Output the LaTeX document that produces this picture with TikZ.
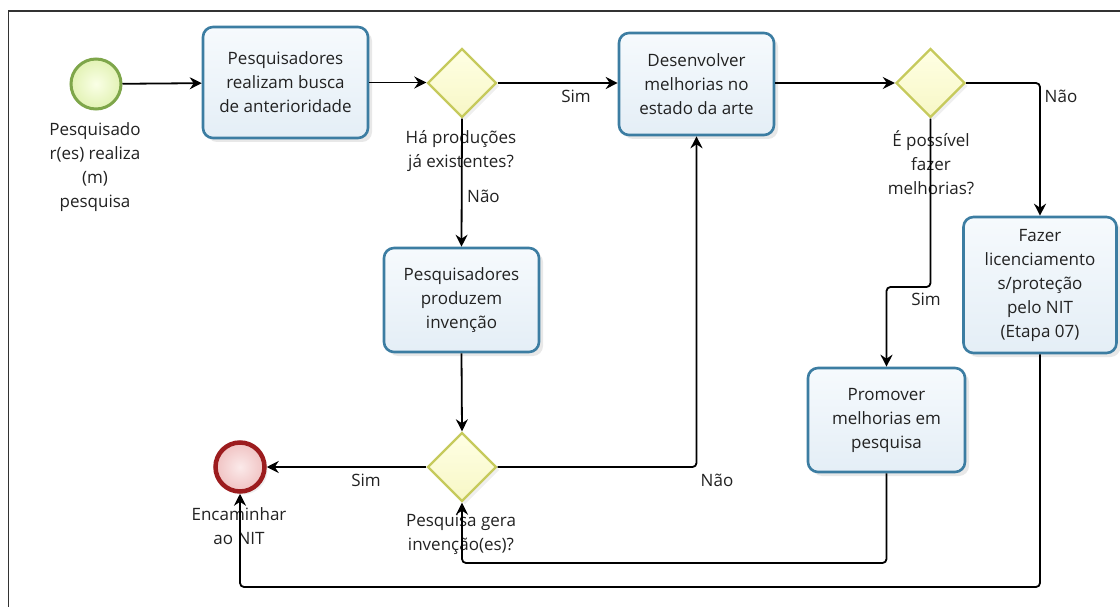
\documentclass[tikz,border=0pt]{standalone}
\usepackage{fontspec}
\setmainfont{Open Sans}
\usetikzlibrary{shapes.geometric,arrows.meta,shadows}
\definecolor{taskborder}{HTML}{3C7DA2}
\definecolor{tasktop}{HTML}{F6FAFD}
\definecolor{taskbot}{HTML}{E4EEF6}
\definecolor{gwborder}{HTML}{C6CA5C}
\definecolor{gwfill}{HTML}{FFFFE4}
\definecolor{gwfill2}{HTML}{F7F7C6}
\definecolor{stborder}{HTML}{7EA64A}
\definecolor{stin}{HTML}{FAFFE6}
\definecolor{stout}{HTML}{E2F2B4}
\definecolor{endborder}{HTML}{9C1C1E}
\definecolor{endin}{HTML}{FBEAEA}
\definecolor{endout}{HTML}{F0C2C2}
\definecolor{txt}{HTML}{222222}
\begin{document}
\begin{tikzpicture}[x=1pt,y=-1pt,
  font=\fontsize{17}{24}\selectfont,
  task/.style={draw=taskborder, line width=2.6pt, rounded corners=10pt,
    top color=tasktop, bottom color=taskbot, align=center, inner sep=0pt,
    text=txt, drop shadow={opacity=0.18, shadow xshift=4pt, shadow yshift=-4pt}},
  gw/.style={diamond, aspect=1, draw=gwborder, line width=2.4pt,
    top color=gwfill, bottom color=gwfill2, minimum size=69pt, inner sep=0pt,
    drop shadow={opacity=0.12, shadow xshift=3pt, shadow yshift=-3pt}},
  startev/.style={circle, draw=stborder, line width=3pt, inner color=stin,
    outer color=stout, minimum size=50pt, inner sep=0pt},
  endev/.style={circle, draw=endborder, line width=4.5pt, inner color=endin,
    outer color=endout, minimum size=49pt, inner sep=0pt,
    drop shadow={opacity=0.12, shadow xshift=3pt, shadow yshift=-3pt}},
  lbl/.style={align=center, inner sep=0pt, text=txt},
  flow/.style={draw=black, line width=1.8pt, rounded corners=4pt,
    -{Stealth[length=12pt, width=12pt, inset=4pt]}},
  frameline/.style={draw=black!80, line width=1.6pt}
]
\useasboundingbox (0,0) rectangle (1120,607);
\fill[white] (0,0) rectangle (1120,607);
\draw[frameline] (8.6,607) -- (8.6,11) -- (1120,11);

% nodes
\node[startev] (start) at (96,84) {};
\node[lbl] (startlbl) at (95,167) {Pesquisado\\r(es) realiza\\(m)\\pesquisa};
\node[task, minimum width=165pt, minimum height=111pt] (busca) at (285.5,82.5) {Pesquisadores\\realizam busca\\de anterioridade};
\node[gw] (g1) at (462,83) {};
\node[lbl] (g1lbl) at (461,151) {Há produções\\já existentes?};
\node[task, minimum width=155pt, minimum height=102pt] (desenv) at (696.5,84) {Desenvolver\\melhorias no\\estado da arte};
\node[gw] (g2) at (930.5,83) {};
\node[lbl] (g2lbl) at (931,163) {É possível\\fazer\\melhorias?};
\node[task, minimum width=153pt, minimum height=136pt] (fazer) at (1040,285) {Fazer\\licenciamento\\s/proteção\\pelo NIT\\(Etapa 07)};
\node[task, minimum width=155pt, minimum height=104pt] (produz) at (461.5,300) {Pesquisadores\\produzem\\invenção};
\node[task, minimum width=157pt, minimum height=104pt] (promover) at (886.5,420) {Promover\\melhorias em\\pesquisa};
\node[gw] (g3) at (462,467) {};
\node[lbl] (g3lbl) at (461,534) {Pesquisa gera\\invenção(es)?};
\node[endev] (fim) at (240,467) {};
\node[lbl] (fimlbl) at (239,526) {Encaminhar\\ao NIT};

% flow labels
\node[lbl] (simA) at (576,96) {Sim};
\node[lbl, anchor=west] (naoA) at (467,196) {Não};
\node[lbl] (naoB) at (1061,96) {Não};
\node[lbl] (simB) at (926,299) {Sim};
\node[lbl] (simC) at (366,480) {Sim};
\node[lbl] (naoC) at (717,480) {Não};

% bend points
\coordinate (b1) at (930.5,287);
\coordinate (b2) at (886.5,287);
\coordinate (b3) at (462,563);
\coordinate (b4) at (240,587);

% connectors
\draw[flow] (start) -- (busca);
\draw[flow] (busca.east) -- (busca.east -| g1.west);
\draw[flow] (g1.east) -- (g1.east -| desenv.west);
\draw[flow] (g1.south) -- (produz.north);
\draw[flow] (desenv.east |- g2.west) -- (g2.west);
\draw[flow] (g2.east) -| (fazer.north);
\draw[flow] (g2.south) -- (b1) -- (b2) -- (promover.north);
\draw[flow] (produz.south) -- (g3.north);
\draw[flow] (g3.west) -- (fim.east);
\draw[flow] (g3.east) -| (desenv.south);
\draw[flow] (promover.south) |- (b3) -- (g3.south);
\draw[flow] (fazer.south) |- (b4) -- (fim.south);
\end{tikzpicture}
\end{document}
